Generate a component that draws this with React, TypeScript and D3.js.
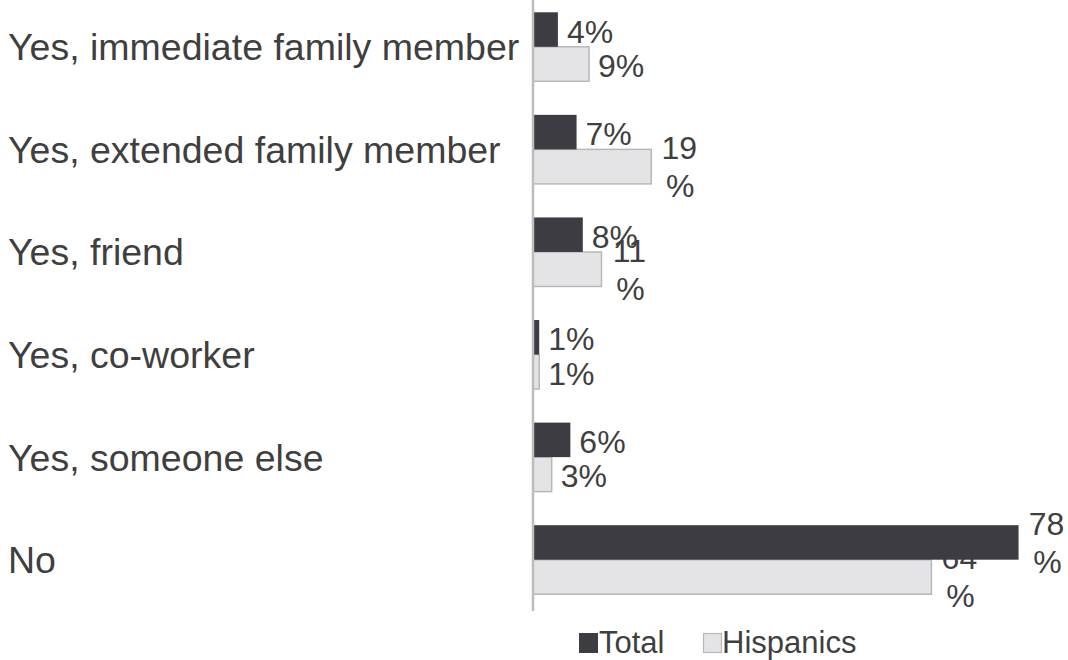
import React from "react";
import * as d3 from "d3";

const categories = [
  "Yes, immediate family member",
  "Yes, extended family member",
  "Yes, friend",
  "Yes, co-worker",
  "Yes, someone else",
  "No",
];
const seriesNames = ["Total", "Hispanics"];
const totalValues = [4, 7, 8, 1, 6, 78];
const hispanicValues = [9, 19, 11, 1, 3, 64];

const W = 1068;
const H = 660;
const FONT = "'Liberation Sans', Arial, sans-serif";
const TEXT = "#3f3f3f";
const DARK = "#3d3c42";
const LIGHT = "#e4e4e6";
const LIGHT_STROKE = "#b8b8b8";

export default function App() {
  const y = d3
    .scaleBand<string>()
    .domain(categories)
    .range([-4.5, 611])
    .paddingInner(0.327)
    .paddingOuter(0.1635);
  const ys = d3
    .scaleBand<string>()
    .domain(seriesNames)
    .range([0, y.bandwidth()])
    .padding(0);
  const x = d3.scaleLinear().domain([0, 80]).range([533, 1031]);

  const series = [
    { name: "Total", values: totalValues, fill: DARK, stroke: "none" },
    { name: "Hispanics", values: hispanicValues, fill: LIGHT, stroke: LIGHT_STROKE },
  ];

  const bars = (s: typeof series[number]) =>
    s.values.map((v, i) => {
      const y0 = (y(categories[i]) ?? 0) + (ys(s.name) ?? 0);
      return (
        <rect
          key={s.name + i}
          x={x(0)}
          y={y0}
          width={x(v) - x(0)}
          height={ys.bandwidth()}
          fill={s.fill}
          stroke={s.stroke}
          strokeWidth={s.stroke === "none" ? 0 : 1.5}
        />
      );
    });

  const labels = (s: typeof series[number]) =>
    s.values.map((v, i) => {
      const cy = (y(categories[i]) ?? 0) + (ys(s.name) ?? 0) + ys.bandwidth() / 2;
      const num = String(v);
      const end = x(v);
      if (num.length > 1) {
        return (
          <g key={s.name + "l" + i} fontFamily={FONT} fontSize={32} fill={TEXT} textAnchor="middle">
            <text x={end + 28} y={cy - 7.5}>{num}</text>
            <text x={end + 29} y={cy + 30.5}>%</text>
          </g>
        );
      }
      return (
        <text key={s.name + "l" + i} x={end + 9} y={cy + 13} fontFamily={FONT} fontSize={32} fill={TEXT}>
          {num}%
        </text>
      );
    });

  return (
    <svg width={W} height={H} style={{ position: "absolute", left: 0, top: 0, background: "#fff" }}>
      {categories.map((c) => (
        <text
          key={c}
          x={8}
          y={(y(c) ?? 0) + y.bandwidth() / 2 + 13.5}
          fontFamily={FONT}
          fontSize={37.5}
          fill={TEXT}
        >
          {c}
        </text>
      ))}
      {bars(series[1])}
      {labels(series[1])}
      {bars(series[0])}
      {labels(series[0])}
      <line x1={x(0)} x2={x(0)} y1={y.range()[0]} y2={y.range()[1]} stroke="#bdbdbd" strokeWidth={2.5} />
      <g fontFamily={FONT} fontSize={31} fill={TEXT}>
        <rect x={579} y={633} width={19} height={20} fill={DARK} />
        <text x={599} y={653}>{seriesNames[0]}</text>
        <rect x={703.5} y={633.5} width={18} height={19} fill={LIGHT} stroke={LIGHT_STROKE} strokeWidth={1.2} />
        <text x={722} y={653}>{seriesNames[1]}</text>
      </g>
    </svg>
  );
}
